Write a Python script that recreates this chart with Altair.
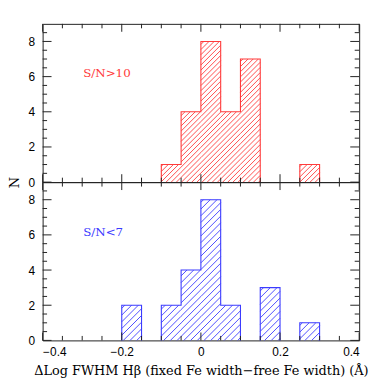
import math
import altair as alt
import pandas as pd

# ---- data ----
bin_left = [-0.2, -0.15, -0.1, -0.05, 0.0, 0.05, 0.1, 0.15, 0.2, 0.25]
bin_width = 0.05
counts_high = [0, 0, 1, 4, 8, 4, 7, 0, 0, 1]   # S/N>10
counts_low = [2, 0, 2, 4, 8, 2, 0, 3, 0, 1]    # S/N<7
panel_labels = ["S/N>10", "S/N<7"]
panel_colors = ["#ff3b3b", "#3b3bff"]
x_label_values = [-0.4, -0.2, 0, 0.2, 0.4]
x_minor_values = [-0.35, -0.3, -0.25, -0.15, -0.1, -0.05, 0.05, 0.1, 0.15, 0.25, 0.3, 0.35]
y_label_values = [0, 2, 4, 6, 8]
y_minor_values = [0.5, 1, 1.5, 2.5, 3, 3.5, 4.5, 5, 5.5, 6.5, 7, 7.5, 8.5]
x_title = "ΔLog FWHM Hβ (fixed Fe width−free Fe width) (Å)"
y_title = "N"

W, H = 320, 160
XD = [-0.4, 0.4]
YD = [0, 9]
FRAME = "#222222"


def outline_df(counts):
    rows = []
    seg = 0
    i = 0
    n = len(counts)
    while i < n:
        if counts[i] == 0:
            i += 1
            continue
        j = i
        while j + 1 < n and counts[j + 1] > 0:
            j += 1
        order = 0
        pts = [(bin_left[i], 0)]
        for k in range(i, j + 1):
            pts.append((bin_left[k], counts[k]))
            pts.append((bin_left[k] + bin_width, counts[k]))
        pts.append((bin_left[j] + bin_width, 0))
        for (px, py) in pts:
            rows.append({"x": px, "y": py, "seg": seg, "o": order})
            order += 1
        seg += 1
        i = j + 1
    return pd.DataFrame(rows)


def hatch_df(counts, spacing):
    sx = W / (XD[1] - XD[0])
    sy = H / (YD[1] - YD[0])
    rows = []
    for xl, c in zip(bin_left, counts):
        if c == 0:
            continue
        X0 = (xl - XD[0]) * sx
        X1 = (xl + bin_width - XD[0]) * sx
        Yt = c * sy
        kmin = math.floor((X0 - Yt) / spacing) - 1
        kmax = math.ceil(X1 / spacing) + 1
        for k in range(kmin, kmax + 1):
            b = k * spacing
            a = max(X0, b)
            e = min(X1, b + Yt)
            if e - a > 0.4:
                rows.append({"x": a / sx + XD[0], "y": (a - b) / sy,
                             "x2": e / sx + XD[0], "y2": (e - b) / sy})
    return pd.DataFrame(rows)


def panel(counts, label, color, spacing, bottom):
    xs = alt.Scale(domain=XD, nice=False, zero=False)
    ys = alt.Scale(domain=YD, nice=False, zero=False)
    if bottom:
        xaxis = alt.Axis(values=x_label_values, ticks=False, domain=False, grid=False,
                         format="~g", labelPadding=6, title=x_title, titlePadding=7)
        yaxis = alt.Axis(values=y_label_values, ticks=False, domain=False, grid=False,
                         format="d", labelPadding=8, title=None)
    else:
        xaxis = None
        yaxis = alt.Axis(values=y_label_values, ticks=False, domain=False, grid=False,
                         format="d", labelPadding=8, title=y_title, titleX=-28, titleY=H,
                         titleAngle=270, titleAlign="center", titleBaseline="middle")

    def X(f):
        return alt.X(f, type="quantitative", scale=xs, axis=xaxis)

    def Y(f):
        return alt.Y(f, type="quantitative", scale=ys, axis=yaxis)

    hatch = alt.Chart(hatch_df(counts, spacing)).mark_rule(
        color=color, strokeWidth=0.9).encode(
        x=X("x"), y=Y("y"), x2="x2", y2="y2")

    outline = alt.Chart(outline_df(counts)).mark_line(
        color=color, strokeWidth=1.1).encode(
        x=X("x"), y=Y("y"), detail="seg:N", order="o:Q")

    xt_major = pd.DataFrame({"x": x_label_values})
    xt_minor = pd.DataFrame({"x": x_minor_values})
    yt_major = pd.DataFrame({"y": y_label_values})
    yt_minor = pd.DataFrame({"y": y_minor_values})

    tick_layers = []
    for df, L in [(xt_major, 8), (xt_minor, 4.5)]:
        tick_layers.append(alt.Chart(df).mark_rule(color=FRAME, strokeWidth=1).encode(
            x=X("x"), y=alt.value(0), y2=alt.value(L)))
        tick_layers.append(alt.Chart(df).mark_rule(color=FRAME, strokeWidth=1).encode(
            x=X("x"), y=alt.value(H), y2=alt.value(H - L)))
    for df, L in [(yt_major, 9), (yt_minor, 4.5)]:
        tick_layers.append(alt.Chart(df).mark_rule(color=FRAME, strokeWidth=1).encode(
            y=Y("y"), x=alt.value(0), x2=alt.value(L)))
        tick_layers.append(alt.Chart(df).mark_rule(color=FRAME, strokeWidth=1).encode(
            y=Y("y"), x=alt.value(W), x2=alt.value(W - L)))

    text = alt.Chart(pd.DataFrame({"t": [label]})).mark_text(
        align="left", baseline="middle", font="DejaVu Serif", fontSize=12,
        color=color).encode(x=alt.value(41), y=alt.value(50), text="t:N")

    return alt.layer(hatch, outline, *tick_layers, text).properties(width=W, height=H)


top = panel(counts_high, panel_labels[0], panel_colors[0], 5.2, False)
bot = panel(counts_low, panel_labels[1], panel_colors[1], 6.8, True)

chart = alt.vconcat(top, bot, spacing=0, bounds="flush").properties(
    padding={"left": 0, "top": 13, "right": 5, "bottom": 0}
).configure_view(
    stroke=FRAME, strokeWidth=1
).configure_axis(
    labelFont="Liberation Sans", labelFontSize=12, labelColor="black",
    titleFont="DejaVu Serif", titleFontSize=13, titleFontWeight="normal", titleColor="black"
)

chart.save("out.html", embed_options={"renderer": "svg", "actions": False})
